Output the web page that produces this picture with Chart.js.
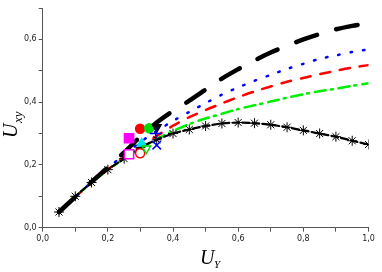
<!DOCTYPE html>
<html>
<head>
<meta charset="utf-8">
<script src="https://cdn.jsdelivr.net/npm/chart.js@4"></script>
<style>
  html, body { margin: 0; padding: 0; background: #fff; }
  #wrap { width: 382px; height: 272px; }
</style>
</head>
<body>
<div id="wrap"><canvas id="chart"></canvas></div>
<script>
  // x positions of the model curves
  const uY = [0.05, 0.1, 0.15, 0.2, 0.25, 0.3, 0.35, 0.4, 0.45, 0.5,
              0.55, 0.6, 0.65, 0.7, 0.75, 0.8, 0.85, 0.9, 0.95, 1.0];

  // model curves
  const curveBlack = [0.05, 0.098, 0.146, 0.192, 0.24, 0.29, 0.335, 0.372, 0.405, 0.44,
                      0.475, 0.505, 0.533, 0.558, 0.58, 0.6, 0.617, 0.632, 0.643, 0.652];
  const curveBlue  = [0.05, 0.098, 0.145, 0.19, 0.233, 0.273, 0.308, 0.34, 0.369, 0.397,
                      0.424, 0.447, 0.468, 0.487, 0.506, 0.522, 0.538, 0.549, 0.56, 0.568];
  const curveRed   = [0.05, 0.098, 0.143, 0.185, 0.225, 0.258, 0.292, 0.325, 0.352, 0.375,
                      0.396, 0.416, 0.434, 0.45, 0.465, 0.477, 0.489, 0.5, 0.51, 0.518];
  const curveGreen = [0.05, 0.098, 0.143, 0.184, 0.22, 0.252, 0.282, 0.308, 0.33, 0.348,
                      0.363, 0.378, 0.39, 0.402, 0.414, 0.425, 0.435, 0.443, 0.452, 0.46];
  const curveStar  = [0.05, 0.1, 0.144, 0.185, 0.22, 0.255, 0.28, 0.3, 0.313, 0.324,
                      0.332, 0.335, 0.333, 0.328, 0.32, 0.31, 0.3, 0.29, 0.277, 0.265];

  // experimental points: [x, y]
  const ptMagentaFill = [[0.265, 0.285]];
  const ptMagentaOpen = [[0.265, 0.234]];
  const ptRedFill     = [[0.299, 0.315]];
  const ptRedOpen     = [[0.299, 0.237]];
  const ptCyanTri     = [[0.304, 0.268]];
  const ptGreenFill   = [[0.327, 0.317]];
  const ptGreenOpen   = [[0.318, 0.252]];
  const ptBlackTri    = [[0.35, 0.32]];
  const ptBluePlus    = [[0.347, 0.30]];
  const ptBlueX       = [[0.35, 0.263]];

  const xTicks = [0, 0.2, 0.4, 0.6, 0.8, 1.0];
  const yTicks = [0, 0.2, 0.4, 0.6];

  const fmt = v => v.toFixed(1).replace('.', ',');
  const pairs = ys => ys.map((y, i) => ({ x: uY[i], y: y }));
  const pts = arr => arr.map(p => ({ x: p[0], y: p[1] }));

  function curve(data, color, width, dash) {
    return {
      data: pairs(data),
      showLine: true,
      borderColor: color,
      borderWidth: width,
      borderDash: dash,
      borderCapStyle: 'round',
      pointRadius: 0,
      tension: 0.3,
      fill: false
    };
  }

  function marker(data, style, color, fill, r, rot) {
    return {
      data: pts(data),
      showLine: false,
      pointStyle: style,
      pointRadius: r,
      pointRotation: rot || 0,
      pointBorderColor: color,
      pointBackgroundColor: fill,
      pointBorderWidth: 1.5
    };
  }

  // axis titles with subscripts
  const titles = {
    id: 'titles',
    afterDraw(chart) {
      const ctx = chart.ctx;
      ctx.save();
      ctx.fillStyle = '#000';
      ctx.textBaseline = 'alphabetic';
      // x title: U_Y
      ctx.font = 'italic 20px "Liberation Serif", serif';
      ctx.fillText('U', 200, 264);
      ctx.font = 'italic 11px "Liberation Serif", serif';
      ctx.fillText('Y', 214, 268);
      // y title: U_xy (rotated)
      ctx.translate(17, 138);
      ctx.rotate(-Math.PI / 2);
      ctx.font = 'italic 20px "Liberation Serif", serif';
      ctx.fillText('U', 0, 0);
      ctx.font = 'italic 13px "Liberation Serif", serif';
      ctx.fillText('xy', 15, 5);
      ctx.restore();
    }
  };

  const tickFont = { family: "'DejaVu Sans', sans-serif", size: 8 };

  // Chart.js paints dataset 0 on top, so markers come first
  new Chart(document.getElementById('chart').getContext('2d'), {
    type: 'scatter',
    data: {
      datasets: [
        marker(ptBluePlus, 'cross', '#0000ff', '#0000ff', 6),
        marker(ptBlueX, 'crossRot', '#0000ff', '#0000ff', 6),
        marker(ptBlackTri, 'triangle', '#000000', '#000000', 5, 180),
        marker(ptGreenFill, 'circle', '#00dd00', '#00dd00', 4.5),
        marker(ptGreenOpen, 'triangle', '#00dd00', 'rgba(255,255,255,0)', 5, 180),
        marker(ptCyanTri, 'triangle', '#00e5ee', '#00e5ee', 5),
        marker(ptRedFill, 'circle', '#ff0000', '#ff0000', 4.5),
        marker(ptRedOpen, 'circle', '#ff0000', '#ffffff', 4.5),
        marker(ptMagentaFill, 'rect', '#ff00ff', '#ff00ff', 6.5),
        marker(ptMagentaOpen, 'rect', '#ff00ff', '#ffffff', 6.5),
        curve(curveBlack, '#000000', 4.5, [22, 20]),
        Object.assign(curve(curveStar, '#000000', 2.2, [7, 3]), {
          pointRadius: 5,
          pointStyle: 'star',
          pointBorderColor: '#000',
          pointBorderWidth: 1
        }),
        curve(curveBlue, '#0000ff', 2.5, [1.5, 11]),
        curve(curveRed, '#ff0000', 2.5, [10, 10]),
        curve(curveGreen, '#00ee00', 2.5, [11, 5, 2, 6])
      ]
    },
    options: {
      responsive: true,
      maintainAspectRatio: false,
      animation: false,
      layout: { padding: { left: 0, right: 13.5, top: 3.3, bottom: 0 } },
      plugins: {
        legend: { display: false },
        tooltip: { enabled: false }
      },
      scales: {
        x: {
          type: 'linear',
          min: 0,
          max: 1,
          afterFit: s => { s.height = 44.3; },
          border: { color: '#555', width: 1 },
          grid: { drawOnChartArea: false, tickLength: 4, color: '#555' },
          ticks: {
            stepSize: 0.1,
            padding: 2,
            color: '#222',
            font: tickFont,
            maxRotation: 0,
            callback: v => xTicks.some(t => Math.abs(t - v) < 1e-6) ? fmt(v) : ''
          }
        },
        y: {
          type: 'linear',
          min: 0,
          max: 0.7,
          afterFit: s => { s.width = 42.7; },
          border: { color: '#555', width: 1 },
          grid: { drawOnChartArea: false, tickLength: 4, color: '#555' },
          ticks: {
            stepSize: 0.1,
            padding: 2,
            color: '#222',
            font: tickFont,
            callback: v => yTicks.some(t => Math.abs(t - v) < 1e-6) ? fmt(v) : ''
          }
        }
      }
    },
    plugins: [titles]
  });
</script>
</body>
</html>
